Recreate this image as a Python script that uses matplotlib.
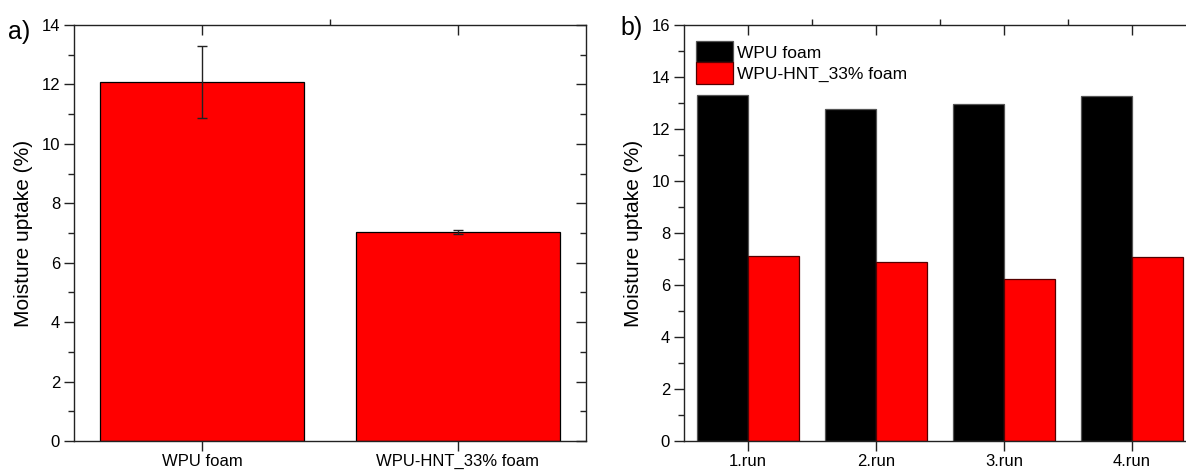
import matplotlib.pyplot as plt
import numpy as np

plt.rcParams['font.family'] = ['Liberation Sans', 'DejaVu Sans']

# panel a data
samples = ['WPU foam', 'WPU-HNT_33% foam']
mean_uptake = [12.08, 7.02]
err_uptake = [1.22, 0.07]

# panel b data
runs = ['1.run', '2.run', '3.run', '4.run']
wpu_runs = [13.30, 12.77, 12.98, 13.26]
hnt_runs = [7.13, 6.87, 6.22, 7.08]

fig = plt.figure(figsize=(11.86, 4.70), dpi=100)
ax1 = fig.add_axes([74 / 1186, 29 / 470, 512 / 1186, 416 / 470])
ax2 = fig.add_axes([684 / 1186, 29 / 470, 512 / 1186, 416 / 470])

tick_fs = 12
label_fs = 15


def style_axes(ax, ymax, ncat):
    for s in ax.spines.values():
        s.set_linewidth(1.0)
        s.set_color('#222222')
    ax.set_ylim(0, ymax)
    ax.set_xlim(0.5, ncat + 0.5)
    ax.set_yticks(np.arange(0, ymax + 1, 2))
    ax.set_yticks(np.arange(1, ymax, 2), minor=True)
    ax.set_xticks(np.arange(1.5, ncat, 1), minor=True)
    ax.tick_params(axis='y', which='major', direction='out', length=7, width=1,
                   labelsize=tick_fs, right=True, color='#222222', pad=3)
    ax.tick_params(axis='y', which='minor', direction='out', length=4, width=1,
                   right=True, color='#222222')
    ax.tick_params(axis='x', which='major', direction='out', length=7, width=1,
                   labelsize=tick_fs, top=True, color='#222222', pad=2)
    ax.tick_params(axis='x', which='minor', bottom=False, top=True, length=4,
                   width=1, color='#222222')
    # inward ticks on top/right like Origin
    for t in ax.yaxis.get_major_ticks() + ax.yaxis.get_minor_ticks():
        t.tick2line.set_marker(0)
    for t in ax.xaxis.get_major_ticks() + ax.xaxis.get_minor_ticks():
        t.tick2line.set_marker(3)
    ax.set_ylabel('Moisture uptake (%)', fontsize=label_fs)


# a) mean values with error bars
xa = np.arange(1, len(samples) + 1)
ax1.bar(xa, mean_uptake, width=0.8, color='#ff0000', edgecolor='#000000',
        linewidth=0.9, zorder=2)
ax1.errorbar(xa, mean_uptake, yerr=err_uptake, fmt='none', ecolor='#222222',
             elinewidth=1, capsize=3.5, capthick=1, zorder=3)
style_axes(ax1, 14, len(samples))
ax1.set_xticks(xa)
ax1.set_xticklabels(samples)
ax1.yaxis.set_label_coords(-0.08, 0.5)

# b) individual runs
xb = np.arange(1, len(runs) + 1)
ax2.bar(xb - 0.2, wpu_runs, width=0.4, color='#000000', edgecolor='#555555',
        linewidth=0.9, label='WPU foam', zorder=2)
ax2.bar(xb + 0.2, hnt_runs, width=0.4, color='#ff0000', edgecolor='#550000',
        linewidth=0.9, label='WPU-HNT_33% foam', zorder=2)
style_axes(ax2, 16, len(runs))
ax2.set_xticks(xb)
ax2.set_xticklabels(runs)
ax2.yaxis.set_label_coords(-0.08, 0.5)
ax2.legend(loc='upper left', bbox_to_anchor=(0.0, 0.99), frameon=False,
           fontsize=12.5, handlelength=2.1, handleheight=1.5, labelspacing=0.0,
           handletextpad=0.25, borderaxespad=0.4, borderpad=0.3)

fig.text(8 / 1186, 1 - 32 / 470, 'a)', fontsize=18, va='center', ha='left')
fig.text(620 / 1186, 1 - 28 / 470, 'b)', fontsize=18, va='center', ha='left')

fig.savefig('out.png', dpi=100)
